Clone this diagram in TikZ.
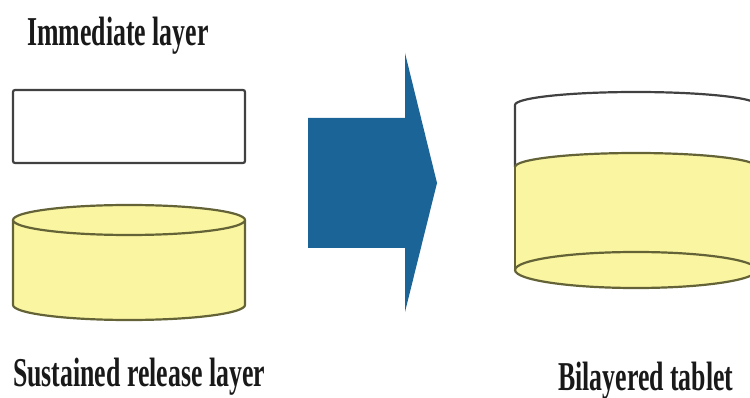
\documentclass[tikz,border=0pt]{standalone}
\usepackage{fontspec}
\setmainfont{Liberation Serif}
\definecolor{tabletyellow}{RGB}{249,245,160}
\definecolor{yellowline}{RGB}{100,99,55}
\definecolor{greyline}{RGB}{65,65,65}
\definecolor{arrowblue}{RGB}{27,100,152}
\begin{document}
\begin{tikzpicture}[x=1pt,y=-1pt,
	caption/.style={anchor=base west, inner sep=0pt, xscale=0.63,
		font=\bfseries\fontsize{41}{41}\selectfont, text=black!90},
	greyedge/.style={draw=greyline, line width=2.2pt},
	yellowedge/.style={draw=yellowline, line width=2.2pt}]
	\useasboundingbox (0,0) rectangle (750,398);

	% Define immediate layer
	\node[caption] (Immediate) at (27,46) {Immediate layer};
	\draw[greyedge, fill=white, rounded corners=2pt] (13,90) rectangle (245,163);

	% Define sustained release layer
	\fill[tabletyellow] (13,220) -- (13,305) arc (180:360:116pt and 15pt) -- (245,220) -- cycle;
	\draw[yellowedge] (13,220) -- (13,305) arc (180:360:116pt and 15pt) -- (245,220);
	\draw[yellowedge, fill=tabletyellow] (129,220) ellipse (116pt and 15pt);
	\node[caption] (Sustained) at (13,386) {Sustained release layer};

	% Define arrow
	\fill[arrowblue] (308,118) -- (405,118) -- (405,53) -- (437,183)
		-- (405,312) -- (405,248) -- (308,248) -- cycle;

	% Define bilayered tablet
	\fill[tabletyellow] (515,167) arc (180:0:121pt and 14pt) -- (757,270)
		arc (0:-180:121pt and 18pt) -- cycle;
	\draw[greyedge] (515,167) -- (515,105) arc (180:0:121pt and 13pt) -- (757,167);
	\draw[yellowedge] (515,167) arc (180:0:121pt and 14pt);
	\draw[yellowedge] (515,167) -- (515,270);
	\draw[yellowedge] (757,167) -- (757,270);
	\draw[yellowedge, fill=tabletyellow] (636,270) ellipse (121pt and 18pt);
	\node[caption] (Bilayered) at (558,390) {Bilayered tablet};
\end{tikzpicture}
\end{document}
